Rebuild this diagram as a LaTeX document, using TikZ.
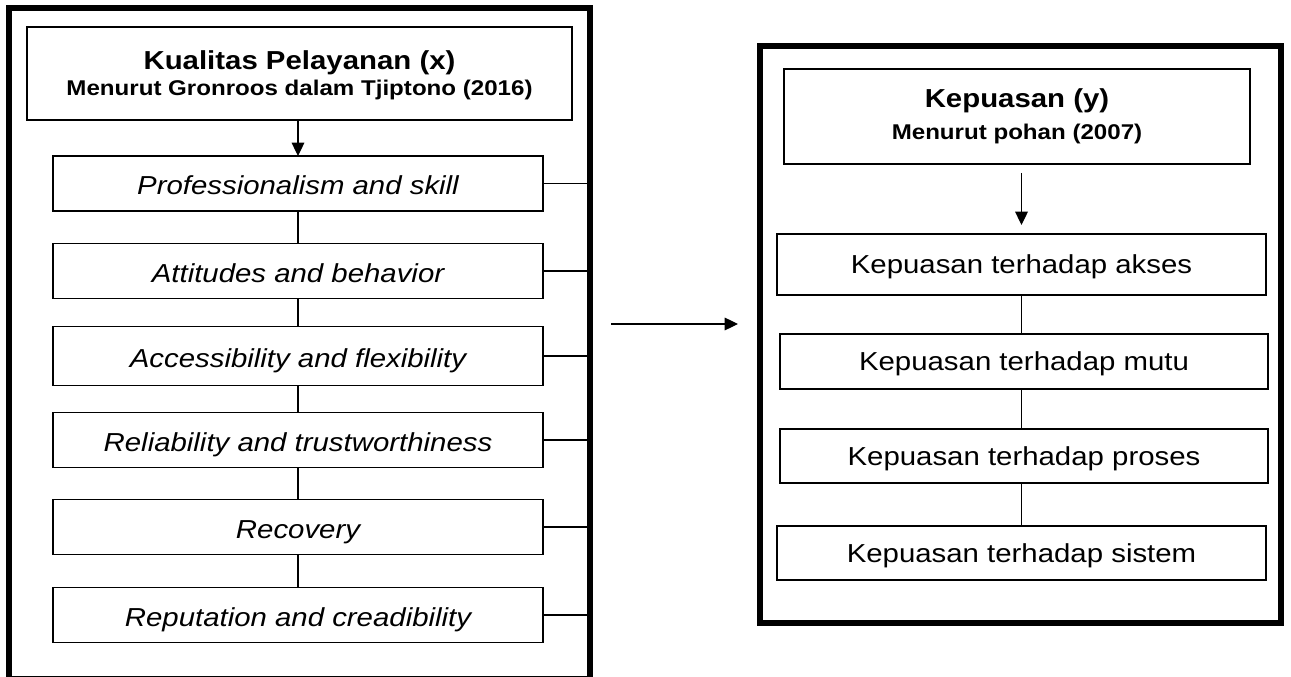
\documentclass[tikz,border=0pt]{standalone}
\usepackage{fontspec}
\setmainfont{Liberation Sans}[FakeStretch=1.13]
\usetikzlibrary{arrows.meta}
\tikzset{
  every node/.style={outer sep=0pt, inner sep=0pt},
  frame/.style 2 args={draw, line width=4.5pt, minimum width=#1, minimum height=#2},
  box/.style 2 args={draw, line width=0.9pt, minimum width=#1, minimum height=#2},
  itemL/.style={box={367.5pt}{41.25pt}, font=\fontsize{19.5}{23}\selectfont\itshape, text height=17pt, text depth=0pt},
  itemR/.style={font=\fontsize{19.5}{23}\selectfont, text height=14pt, text depth=0pt},
  ttl/.style={anchor=base, font=\fontsize{19.5}{23}\selectfont\bfseries},
  sub/.style={anchor=base, font=\fontsize{16}{19}\selectfont\bfseries},
  conn/.style={line width=1.3pt},
  arr/.style={line width=0.9pt, -{Triangle[width=9.5pt,length=10pt]}}
}
\begin{document}
\begin{tikzpicture}[x=0.75pt,y=-0.75pt]
\useasboundingbox (0,0) rectangle (1291,677);
\clip (0,0) rectangle (1291,677);
% left frame
\node[frame={435.75pt}{503.25pt}] (L) at (299.5,343.5) {};
\node[box={408.75pt}{69.75pt}] (LT) at (299.5,73.5) {};
\node[ttl] (LT1) at (299.5,69.3) {Kualitas Pelayanan (x)};
\node[sub] (LT2) at (299.5,95.3) {Menurut Gronroos dalam Tjiptono (2016)};
\node[itemL] (p1) at (298,183.5) {Professionalism and skill};
\node[itemL] (p2) at (298,271) {Attitudes and behavior};
\node[itemL, minimum height=44.25pt] (p3) at (298,356) {Accessibility and flexibility};
\node[itemL] (p4) at (298,440) {Reliability and trustworthiness};
\node[itemL] (p5) at (298,527) {Recovery};
\node[itemL] (p6) at (298,615) {Reputation and creadibility};
\draw[arr] (LT.south -| p1.north) -- (p1.north);
\draw[conn] (p1.south) -- (p2.north);
\draw[conn] (p2.south) -- (p3.north);
\draw[conn] (p3.south) -- (p4.north);
\draw[conn] (p4.south) -- (p5.north);
\draw[conn] (p5.south) -- (p6.north);
\foreach \n in {p1,p2,p3,p4,p5,p6}
  \draw[conn] (\n.east) -- (\n.east -| L.east);
% middle arrow
\coordinate (ma) at (611,324);
\coordinate (mb) at (738,324);
\draw[arr] (ma) -- (mb);
% right frame
\node[frame={390.75pt}{432.75pt}] (R) at (1020.5,334.5) {};
\node[box={349.5pt}{71.25pt}] (RT) at (1017,116.5) {};
\node[ttl] (RT1) at (1017,107.3) {Kepuasan (y)};
\node[sub] (RT2) at (1017,139.5) {Menurut pohan (2007)};
\node[box={366.75pt}{45.75pt}, itemR] (k1) at (1021.5,264.5) {Kepuasan terhadap akses};
\node[box={366pt}{41.25pt}, itemR] (k2) at (1024,361.5) {Kepuasan terhadap mutu};
\node[box={366pt}{40.5pt}, itemR] (k3) at (1024,456) {Kepuasan terhadap proses};
\node[box={366.75pt}{40.5pt}, itemR] (k4) at (1021.5,553) {Kepuasan terhadap sistem};
\draw[arr, shorten <=6.75pt, shorten >=6.75pt] (RT.south -| k1.north) -- (k1.north);
\draw[conn] (k1.south) -- (k1.south |- k2.north);
\draw[conn] (k1.south |- k2.south) -- (k1.south |- k3.north);
\draw[conn] (k1.south |- k3.south) -- (k4.north);
\end{tikzpicture}
\end{document}
